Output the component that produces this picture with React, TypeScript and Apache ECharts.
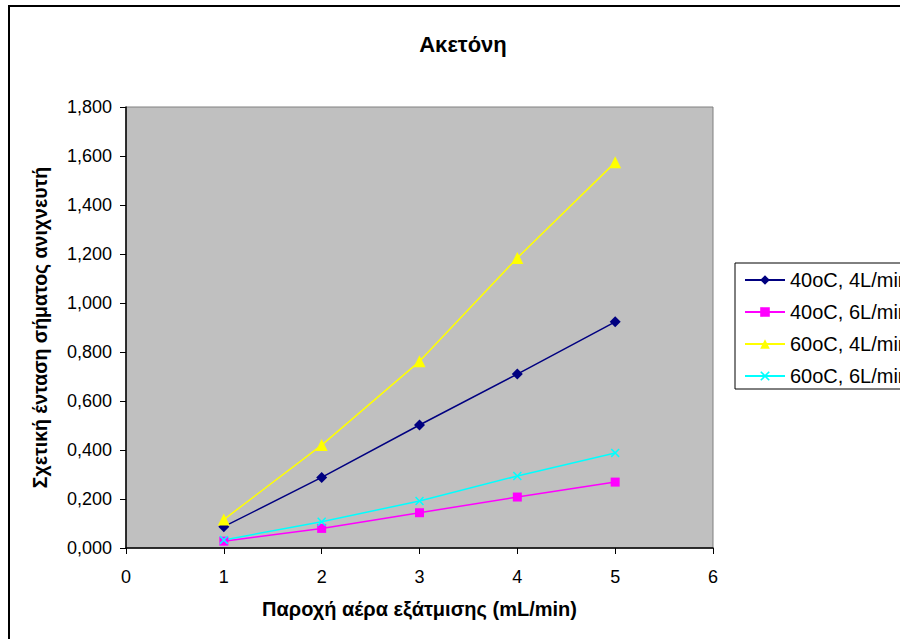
import React, { useEffect, useRef } from "react";
import * as echarts from "echarts";

// Air flow rate (mL/min)
const flowRates = [1, 2, 3, 4, 5];

// Relative detector signal intensity per condition
const s40c4L = [0.087, 0.288, 0.502, 0.71, 0.923];
const s40c6L = [0.028, 0.08, 0.144, 0.208, 0.269];
const s60c4L = [0.116, 0.42, 0.762, 1.184, 1.574];
const s60c6L = [0.033, 0.107, 0.192, 0.294, 0.388];

const seriesNames = ["40oC, 4L/min", "40oC, 6L/min", "60oC, 4L/min", "60oC, 6L/min"];

const FONT = "Arial, 'Liberation Sans', Helvetica, sans-serif";

// thin "x" cross marker
const CROSS =
  "path://M0,1.2L1.2,0L5,3.8L8.8,0L10,1.2L6.2,5L10,8.8L8.8,10L5,6.2L1.2,10L0,8.8L3.8,5Z";

const toPairs = (ys: number[]) => flowRates.map((x, i) => [x, ys[i]]);

export default function App() {
  const ref = useRef<HTMLDivElement>(null);

  useEffect(() => {
    if (!ref.current) return;
    const chart = echarts.init(ref.current, undefined, { renderer: "svg" });

    const mk = (
      name: string,
      data: number[],
      color: string,
      symbol: string,
      symbolSize: number
    ) => ({
      name,
      type: "line",
      data: toPairs(data),
      symbol,
      symbolSize,
      showSymbol: true,
      lineStyle: { color, width: 1.5 },
      itemStyle: { color, borderWidth: 0 },
    });

    chart.setOption({
      animation: false,
      backgroundColor: "#ffffff",
      title: {
        text: "Ακετόνη",
        left: 463,
        top: 33,
        padding: 0,
        textAlign: "center",
        textStyle: { fontFamily: FONT, fontSize: 22, fontWeight: "bold", color: "#000" },
      },
      graphic: [
        {
          type: "rect",
          shape: { x: 9, y: 6, width: 1000, height: 1000 },
          style: { fill: "none", stroke: "#000", lineWidth: 2 },
          silent: true,
          z: -1,
        },
      ],
      legend: {
        orient: "vertical",
        left: 735,
        top: 263,
        padding: [7, 30, 3, 9],
        itemWidth: 40,
        itemHeight: 12,
        itemGap: 12,
        backgroundColor: "#ffffff",
        borderColor: "#000",
        borderWidth: 1,
        borderRadius: 0,
        data: seriesNames,
        textStyle: { fontFamily: FONT, fontSize: 20, color: "#000", lineHeight: 20 },
      },
      grid: {
        left: 126,
        top: 107,
        width: 587,
        height: 441,
        show: true,
        backgroundColor: "#C0C0C0",
        borderColor: "#808080",
        borderWidth: 1,
        containLabel: false,
      },
      xAxis: {
        type: "value",
        min: 0,
        max: 6,
        interval: 1,
        name: "Παροχή αέρα εξάτμισης (mL/min)",
        nameLocation: "middle",
        nameGap: 51,
        nameTextStyle: { fontFamily: FONT, fontSize: 20, fontWeight: "bold", color: "#000" },
        axisLine: { show: true, lineStyle: { color: "#000", width: 1.5 } },
        axisTick: { show: true, inside: false, length: 6, lineStyle: { color: "#000" } },
        axisLabel: { fontFamily: FONT, fontSize: 18, color: "#000", margin: 20 },
        splitLine: { show: false },
      },
      yAxis: {
        type: "value",
        min: 0,
        max: 1.8,
        interval: 0.2,
        name: "Σχετική ένταση σήματος ανιχνευτή",
        nameLocation: "middle",
        nameGap: 76,
        nameRotate: 90,
        nameTextStyle: { fontFamily: FONT, fontSize: 19.5, fontWeight: "bold", color: "#000" },
        axisLine: { show: true, lineStyle: { color: "#000", width: 1.5 } },
        axisTick: { show: true, inside: false, length: 6, lineStyle: { color: "#000" } },
        axisLabel: {
          fontFamily: FONT,
          fontSize: 18,
          color: "#000",
          margin: 14,
          formatter: (v: number) => v.toFixed(3).replace(".", ","),
        },
        splitLine: { show: false },
      },
      series: [
        mk(seriesNames[0], s40c4L, "#000080", "diamond", 11),
        mk(seriesNames[1], s40c6L, "#FF00FF", "rect", 9),
        mk(seriesNames[2], s60c4L, "#FFFF00", "triangle", 12),
        mk(seriesNames[3], s60c6L, "#00FFFF", CROSS, 9),
      ],
    });

    return () => chart.dispose();
  }, []);

  return (
    <div
      ref={ref}
      style={{ position: "fixed", left: 0, top: 0, width: 900, height: 639 }}
    />
  );
}
